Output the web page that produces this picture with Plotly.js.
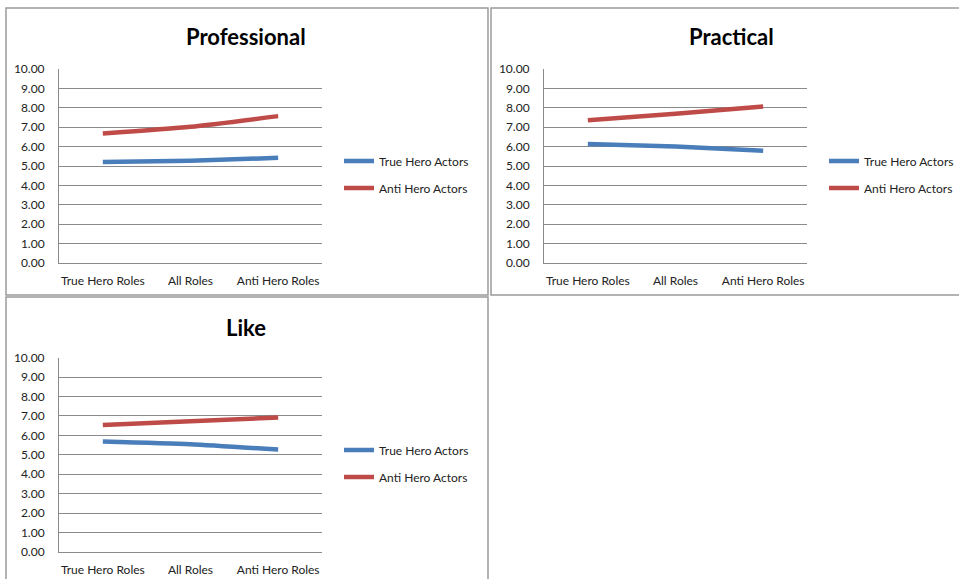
<!DOCTYPE html>
<html>
<head>
<meta charset="utf-8">
<script src="https://cdn.plot.ly/plotly-3.0.1.min.js"></script>
<style>html,body{margin:0;padding:0;background:#fff;}#chart{width:959px;height:579px;}</style>
</head>
<body>
<div id="chart"></div>
<script>
// Data
const categories = ["True Hero Roles", "All Roles", "Anti Hero Roles"];
const seriesNames = ["True Hero Actors", "Anti Hero Actors"];
const panelTitles = ["Professional", "Practical", "Like"];
const professionalTrue = [5.20, 5.27, 5.42];
const professionalAnti = [6.67, 7.02, 7.57];
const practicalTrue = [6.14, 6.00, 5.78];
const practicalAnti = [7.36, 7.69, 8.07];
const likeTrue = [5.69, 5.55, 5.27];
const likeAnti = [6.53, 6.73, 6.92];
const yTickVals = [0,1,2,3,4,5,6,7,8,9,10];

const W = 959, H = 579;
const px = v => v / W;
const py = v => 1 - v / H;

const blue = "#4a7ebb", red = "#be4b48";
const font = "Lato, 'Open Sans', sans-serif";

const panels = [
  {title: panelTitles[0], t: professionalTrue, a: professionalAnti, xs: "", plot: [59, 322, 69, 263], titlePos: [246, 37], legY: 174.5, legX: 339, frame: [6, 488, 8, 295]},
  {title: panelTitles[1], t: practicalTrue, a: practicalAnti, xs: "2", plot: [544, 807, 69, 263], titlePos: [731, 37], legY: 174.5, legX: 824, frame: [491, 975, 8, 295]},
  {title: panelTitles[2], t: likeTrue, a: likeAnti, xs: "3", plot: [59, 322, 357.7, 552], titlePos: [246, 327], legY: 463.5, legX: 339, frame: [6, 488, 297, 600]}
];

const data = [];
const layout = {
  width: W, height: H,
  margin: {l: 0, r: 0, t: 0, b: 0},
  paper_bgcolor: "#fff", plot_bgcolor: "#fff",
  font: {family: font, size: 12, color: "#222"},
  showlegend: true,
  annotations: [], shapes: []
};

panels.forEach((p, i) => {
  const legName = i === 0 ? "legend" : "legend" + (i + 1);
  const series = [p.t, p.a];
  const colors = [blue, red];
  series.forEach((vals, k) => {
    data.push({
      type: "scatter", mode: "lines",
      x: categories, y: vals,
      name: seriesNames[k],
      line: {color: colors[k], width: 4.5, shape: "spline", smoothing: 0.6},
      xaxis: "x" + p.xs, yaxis: "y" + p.xs,
      legend: legName, legendgroup: "g" + i + k,
      hoverinfo: "skip"
    });
  });
  layout["xaxis" + p.xs] = {
    domain: [px(p.plot[0]), px(p.plot[1])],
    anchor: "y" + p.xs,
    type: "category", range: [-0.5, 2.5],
    showgrid: false, zeroline: false,
    showline: true, linecolor: "#8a8a8a", linewidth: 1,
    ticks: "", ticklabelstandoff: 7,
    tickfont: {family: font, size: 12, color: "#222"},
    fixedrange: true
  };
  layout["yaxis" + p.xs] = {
    domain: [py(p.plot[3]), py(p.plot[2])],
    anchor: "x" + p.xs,
    range: [0, 10], tickvals: yTickVals, tickformat: ".2f",
    showgrid: true, gridcolor: "#8a8a8a", gridwidth: 1,
    zeroline: false,
    showline: true, linecolor: "#8a8a8a", linewidth: 1,
    ticks: "", ticklabelstandoff: 11,
    tickfont: {family: font, size: 12, color: "#222"},
    fixedrange: true
  };
  layout[legName] = {
    x: px(p.legX), y: py(p.legY), xanchor: "left", yanchor: "middle",
    xref: "paper", yref: "paper",
    font: {family: font, size: 12, color: "#222"},
    bgcolor: "rgba(0,0,0,0)", borderwidth: 0,
    tracegroupgap: 8, itemwidth: 30
  };
  layout.annotations.push({
    text: "<b>" + p.title + "</b>",
    xref: "paper", yref: "paper",
    x: px(p.titlePos[0]), y: py(p.titlePos[1]),
    xanchor: "center", yanchor: "middle",
    showarrow: false,
    font: {family: font, size: 22, color: "#000"}
  });
  layout.shapes.push({
    type: "rect", xref: "paper", yref: "paper",
    x0: px(p.frame[0]), x1: px(p.frame[1]),
    y0: py(p.frame[3]), y1: py(p.frame[2]),
    line: {color: "#9a9a9a", width: 1.5}, fillcolor: "rgba(0,0,0,0)", layer: "below"
  });
});

Plotly.newPlot("chart", data, layout, {displayModeBar: false, staticPlot: true});
</script>
</body>
</html>
